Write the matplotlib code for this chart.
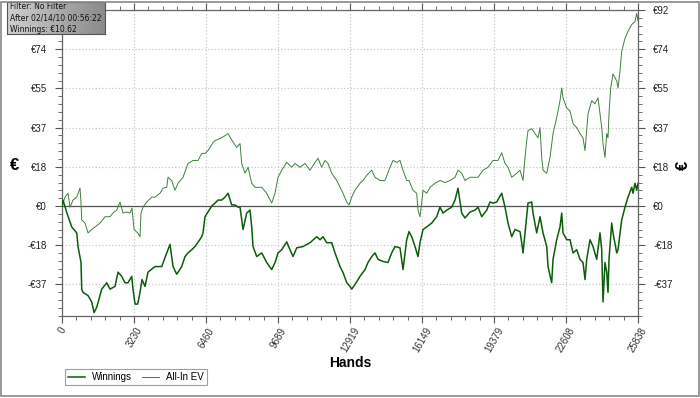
import matplotlib
matplotlib.use("Agg")
import matplotlib.pyplot as plt
import numpy as np
from matplotlib.patches import Rectangle
from matplotlib.ticker import FixedLocator, MultipleLocator

# Winnings curve (hands, euro)
win_hands = [0, 45, 211, 435, 659, 718, 852, 884, 942, 1166, 1332, 1436, 1557, 1781, 2005, 2153,
             2378, 2512, 2678, 2826, 2961, 3127, 3185, 3275, 3396, 3499, 3589, 3723, 3858, 4172,
             4473, 4697, 4845, 4980, 5145, 5370, 5518, 5652, 5818, 5966, 6101, 6267, 6325, 6415,
             6715, 6864, 6998, 7164, 7312, 7447, 7613, 7761, 7895, 7985, 8061, 8120, 8286, 8434,
             8510, 8569, 8734, 8959, 9183, 9407, 9555, 9690, 9856, 10080, 10228, 10363, 10529,
             10811, 11125, 11426, 11574, 11708, 11874, 12099, 12247, 12471, 12606, 12771, 12919,
             12996, 13144, 13368, 13593, 13727, 13893, 14041, 14176, 14400, 14624, 14790, 14938,
             15162, 15297, 15463, 15566, 15687, 15835, 15970, 16059, 16194, 16360, 16584, 16809,
             16957, 17092, 17258, 17482, 17630, 17765, 17931, 18079, 18305, 18529, 18662, 18828,
             19053, 19201, 19335, 19501, 19725, 19873, 20008, 20174, 20322, 20546, 20622, 20681,
             20770, 20905, 21071, 21129, 21295, 21443, 21578, 21744, 21802, 21968, 22027, 22192,
             22340, 22417, 22475, 22641, 22789, 22924, 23090, 23238, 23373, 23462, 23538, 23686,
             23821, 23987, 24135, 24211, 24269, 24359, 24435, 24493, 24538, 24659, 24718, 24884,
             24942, 25108, 25256, 25391, 25557, 25615, 25705, 25781, 25838]
win_euro = [0, 2.8, -3, -9.8, -12.6, -19, -26.5, -39, -40.5, -42, -45, -50, -47.5, -39, -36, -39,
            -37.7, -31, -33, -36, -36, -33, -39, -46, -46, -40.5, -34.5, -37.7, -31, -28.4,
            -28.4, -22, -18, -28.4, -32, -28.4, -23.7, -22, -20.5, -19, -17, -14.4, -12.6, -5,
            0, 1.4, 2.8, 2.8, 4.2, 6, 0.5, 0.5, -0.5, -0.5, -6.5, -11, -3.3, -1.9,
            -9.8, -19, -23.7, -22, -26.5, -29.8, -26.5, -22, -20.5, -16.8, -20.5, -23.7, -19.6,
            -19, -17.2, -14.4, -15.8, -14.4, -17.2, -17.2, -22, -28.4, -31.2, -35.9, -37.7,
            -39, -36.8, -33, -29.8, -26.5, -23.7, -22, -25, -26, -26.5, -22, -19,
            -19.6, -29.8, -15.8, -12, -14.4, -19, -23.7, -17.2, -11, -9.8, -8, -5,
            -0.5, -3.3, -1.9, -0.5, 2.8, 8.4, -3.3, -5.6, -2.8, -1.9, -0.5, -5,
            -1.9, 1.9, 1.4, 1.9, 6, -0.5, -8, -14.4, -11, -12, -17.2, -22,
            -12.6, 1.4, 1.9, -3.3, -12.6, -5, -12.6, -19, -28.4, -36, -25, -15.8,
            -9.8, -3.3, -12.6, -15.8, -15.8, -22, -20.5, -25, -26.5, -34.5, -25, -15.8,
            -19, -25, -12.6, -20.5, -45, -26.5, -31, -40.5, -25, -8, -12.6, -22,
            -20.5, -6.5, -0.5, 4.2, 8.8, 6, 10.7, 7.4, 10.62]

# All-In EV curve (hands, euro)
ev_hands = [0, 135, 269, 359, 493, 659, 807, 852, 884, 1031, 1166, 1332, 1480, 1705, 1929, 2153,
            2288, 2454, 2602, 2736, 2902, 3050, 3140, 3230, 3396, 3499, 3544, 3634, 3800, 4024,
            4172, 4396, 4531, 4697, 4755, 4921, 5069, 5204, 5428, 5652, 5877, 6101, 6267, 6415,
            6550, 6774, 6864, 7088, 7312, 7447, 7613, 7837, 7985, 8061, 8210, 8344, 8510, 8658,
            8959, 9183, 9407, 9555, 9690, 9856, 10080, 10304, 10452, 10677, 10901, 11125, 11350,
            11484, 11650, 11798, 11933, 12099, 12323, 12471, 12606, 12771, 12875, 12996, 13144,
            13368, 13503, 13669, 13893, 14041, 14265, 14490, 14714, 14849, 15015, 15162, 15297,
            15463, 15566, 15745, 15912, 15970, 16059, 16136, 16194, 16360, 16508, 16733, 16957,
            17181, 17406, 17630, 17765, 17931, 18079, 18303, 18527, 18662, 18886, 19110, 19335,
            19559, 19725, 19873, 20008, 20174, 20398, 20546, 20681, 20770, 20846, 20905, 21071,
            21219, 21354, 21443, 21519, 21578, 21744, 21892, 21968, 22027, 22192, 22340, 22417,
            22475, 22641, 22789, 22924, 23090, 23238, 23373, 23462, 23538, 23597, 23762, 23910,
            24045, 24135, 24211, 24269, 24359, 24435, 24493, 24538, 24614, 24718, 24884, 24942,
            25032, 25108, 25256, 25391, 25557, 25705, 25781, 25838]
ev_euro = [0, 4.2, 6, -0.5, 2.8, 4.2, 8.4, 1.4, -6.5, -8, -12.6, -11, -9.8, -8, -5, -5,
           -3.3, -1.9, 1.9, -3.3, -2.8, -3.3, -1, -11, -12.6, -14.4, -3.3, -0.5, 1.9, 4.2,
           4.2, 6, 8.4, 8.8, 13.5, 12, 7.4, 10.7, 13.5, 20, 21.4, 21.4, 24.7, 24.7,
           26, 29.8, 30.7, 31.7, 33, 34, 31, 27.5, 29.3, 20, 15.4, 18.2, 10.7, 8.8,
           8.8, 6, 1.4, 6, 13.5, 16.8, 20.5, 18.2, 20, 18.2, 20, 16.8, 20.5,
           22.4, 18.2, 21.4, 20, 15.4, 12, 8.8, 6, 1.9, 0.5, 4.2, 7.4,
           10.7, 12, 14.4, 16.8, 13.5, 12, 12, 18.2, 21.4, 20.5, 21.4, 16.8,
           12, 12, 7.4, 6, -1.9, -5, 1.4, 7.4, 6, 8.8, 10.7, 12,
           11, 12, 13.5, 16.8, 15.4, 12, 13.5, 13.5, 13.5, 16.8, 18.2, 21.4,
           21.4, 25, 20, 18.2, 13.5, 15.4, 16.8, 12, 22.8, 30.7, 35.4, 36.3,
           34, 32, 36.8, 22.8, 16.8, 15.4, 22.8, 29.3, 34, 41.5, 49.4, 55.4,
           50.8, 46, 44.7, 38.7, 36.8, 34, 32, 26, 35.4, 43.3, 49.4, 48,
           50.8, 43.3, 36.8, 29.3, 22.8, 34, 32, 43.3, 55.4, 62, 58.7, 55.4,
           63.3, 72.7, 78.7, 82, 85.2, 86.6, 90.4, 87]

x_ticks = [0, 3230, 6460, 9689, 12919, 16149, 19379, 22608, 25838]
y_ticks = [-36.8, -18.4, 0, 18.4, 36.8, 55.2, 73.6, 92]
y_labels = ["-€37", "-€18", "€0", "€18", "€37", "€55", "€74", "€92"]

info_lines = ["Filter: No Filter", "After 02/14/10 00:56:22", "Winnings: €10.62"]

plt.rcParams["font.family"] = ["Liberation Sans", "DejaVu Sans"]

fig = plt.figure(figsize=(7.0, 3.98), dpi=100)
ax = fig.add_axes([0.0886, 0.206, 0.8228, 0.7689])

win_color = "#0b5d0b"
ev_color = "#3f7f3f"

ax.plot(ev_hands, ev_euro, color=ev_color, lw=0.7, label="All-In EV", zorder=3)
ax.plot(win_hands, win_euro, color=win_color, lw=1.1, label="Winnings", zorder=4)
ax.axhline(0, color="#555555", lw=0.9, zorder=2)

ax.set_xlim(0, 25838)
ax.set_ylim(-51.6, 92)

ax.xaxis.set_major_locator(FixedLocator(x_ticks))
ax.xaxis.set_minor_locator(MultipleLocator(646))
ax.set_xticklabels([str(t) for t in x_ticks], rotation=60, ha="center", va="top",
                   fontsize=7, color="#333333")
ax.set_yticks(y_ticks)
ax.set_yticklabels(y_labels, fontsize=7, color="#222222")
ax.yaxis.set_minor_locator(MultipleLocator(3.68))

ax.tick_params(which="both", direction="out", top=True, right=True,
               labelright=True, color="#555555")
ax.tick_params(which="major", length=5, width=0.8)
ax.tick_params(which="minor", length=3, width=0.6)
ax.tick_params(axis="y", pad=6)
ax.tick_params(axis="x", pad=2)
# left top label sits under the info box in the picture
ax.yaxis.get_major_ticks()[-1].label1.set_visible(False)

ax.grid(True, which="major", color="#c8c8c8", linestyle=":", lw=0.9)
for s in ax.spines.values():
    s.set_color("#666666")
    s.set_linewidth(0.9)

ax.set_xlabel("Hands", fontsize=10, fontweight="bold", labelpad=1)
fig.text(0.021, 0.585, "€", fontsize=12, fontweight="bold", ha="center", va="center")
fig.text(0.976, 0.585, "€", fontsize=12, fontweight="bold", ha="center", va="center", rotation=90)

# legend order as in the picture
handles, labels = ax.get_legend_handles_labels()
leg = fig.legend(handles[::-1], labels[::-1], loc="lower left", bbox_to_anchor=(0.086, 0.02),
                 ncol=2, fontsize=7, frameon=True, fancybox=False, handlelength=1.7,
                 columnspacing=1.0, borderpad=0.3, handletextpad=0.8)
leg.get_frame().set_edgecolor("#888888")
leg.get_frame().set_linewidth(0.8)

# gray info box top-left
grad = np.linspace(0, 1, 100).reshape(1, -1)
box = fig.add_axes([0.010, 0.915, 0.140, 0.080])
box.imshow(grad, aspect="auto", cmap=matplotlib.colors.LinearSegmentedColormap.from_list(
    "g", ["#cfcfcf", "#8a8a8a"]), extent=[0, 1, 0, 1])
box.set_xticks([])
box.set_yticks([])
for s in box.spines.values():
    s.set_color("#555555")
    s.set_linewidth(0.8)
box.text(0.03, 0.5, "\n".join(info_lines), fontsize=5.5, family="DejaVu Sans",
         color="#111111", va="center", ha="left", linespacing=1.3, transform=box.transAxes)

# outer frame
fig.patches.append(Rectangle((0.002, 0.004), 0.996, 0.992, transform=fig.transFigure,
                             fill=False, edgecolor="#888888", lw=1.2))

fig.savefig("out.png", dpi=100)
